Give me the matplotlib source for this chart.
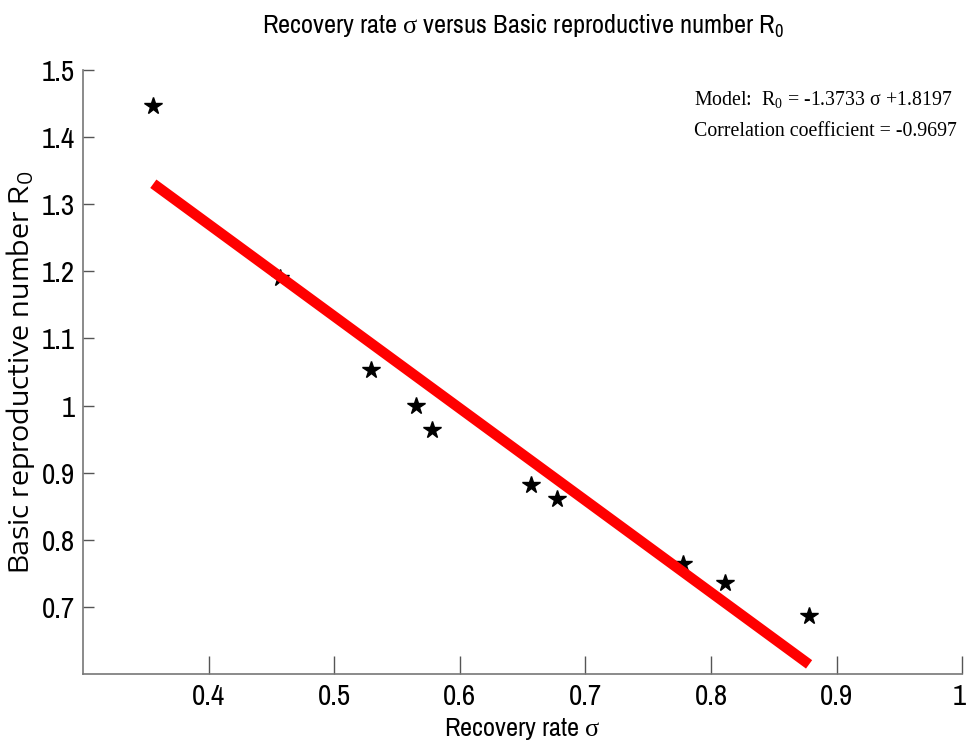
import matplotlib
matplotlib.use("Agg")
import matplotlib.pyplot as plt
import matplotlib.transforms as mtransforms
import numpy as np

# Recovery rate vs basic reproductive number
sigma = [0.356, 0.457, 0.529, 0.565, 0.578, 0.657, 0.677, 0.778, 0.811, 0.878]
r0 = [1.447, 1.190, 1.053, 1.000, 0.963, 0.882, 0.860, 0.764, 0.736, 0.686]

slope = -1.3733
intercept = 1.8197
corr = -0.9697

xticks = [0.4, 0.5, 0.6, 0.7, 0.8, 0.9, 1]
xticklabels = ["0.4", "0.5", "0.6", "0.7", "0.8", "0.9", "1"]
yticks = [0.7, 0.8, 0.9, 1.0, 1.1, 1.2, 1.3, 1.4, 1.5]
yticklabels = ["0.7", "0.8", "0.9", "1", "1.1", "1.2", "1.3", "1.4", "1.5"]

# Greek letters inside math strings come from a Times-like face
plt.rcParams["mathtext.fontset"] = "custom"
plt.rcParams["mathtext.rm"] = "Liberation Serif"

narrow = ["Archivo Narrow", "Liberation Sans", "DejaVu Sans"]
wide = ["Encode Sans Expanded", "Liberation Sans", "DejaVu Sans"]
serif = ["Liberation Serif", "DejaVu Serif"]

fig = plt.figure(figsize=(9.66, 7.47), dpi=100)
ax = fig.add_axes([0.0859, 0.0981, 0.9103, 0.8078])

ax.plot(sigma, r0, linestyle="none", marker="*", markersize=13,
        color="black", zorder=2)

xfit = np.array([min(sigma), max(sigma)])
ax.plot(xfit, slope * xfit + intercept, color="#ff0000", linewidth=7.5,
        solid_capstyle="butt", zorder=3)

ax.set_xlim(0.3, 1.0)
ax.set_ylim(0.6, 1.5)
ax.set_xticks(xticks)
ax.set_xticklabels(xticklabels, family=narrow, fontsize=21)
ax.set_yticks(yticks)
ax.set_yticklabels(yticklabels, family=narrow, fontsize=21)
ax.tick_params(axis="x", direction="in", length=13, width=1, color="#555555", pad=7)
ax.tick_params(axis="y", direction="in", length=8, width=1, color="#555555", pad=6)

# keep the last x tick label inside the figure edge
last = ax.get_xticklabels()[-1]
last.set_transform(last.get_transform() +
                   mtransforms.ScaledTranslation(-3 / 100, 0, fig.dpi_scale_trans))

for side in ("top", "right"):
    ax.spines[side].set_visible(False)
for side in ("left", "bottom"):
    ax.spines[side].set_color("#777777")
    ax.spines[side].set_linewidth(1.2)

ax.set_xlabel(r"Recovery rate $\mathrm{\sigma}$", family=narrow, fontsize=19, labelpad=4)
ax.set_ylabel(r"Basic reproductive number R$\mathregular{_0}$", family=wide,
              fontsize=19.5, labelpad=3)
ax.set_title(r"Recovery rate $\mathrm{\sigma}$ versus Basic reproductive number R$\mathregular{_0}$",
             family=narrow, fontsize=19, pad=26)

ax.text(0.695, 0.951, r"Model:  R$\mathregular{_0}$ = " + f"{slope} σ +{intercept}",
        transform=ax.transAxes, ha="left", va="center", family=serif,
        fontsize=14.3)
ax.text(0.695, 0.898, f"Correlation coefficient = {corr}",
        transform=ax.transAxes, ha="left", va="center", family=serif,
        fontsize=14.3)

fig.savefig("out.png", dpi=100)
